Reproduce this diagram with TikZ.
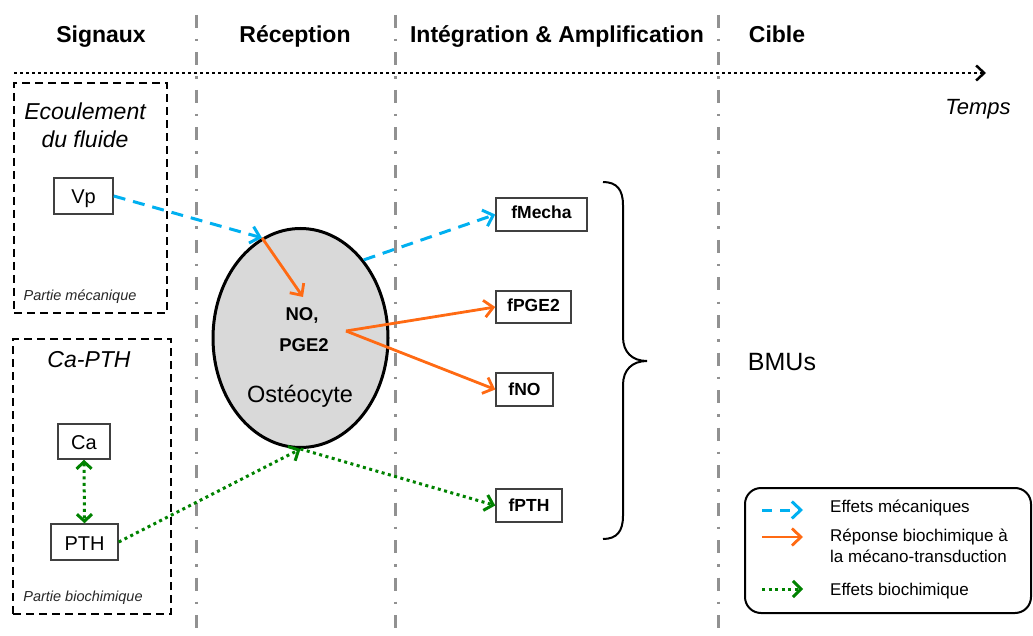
\documentclass[tikz,border=0pt]{standalone}
\usepackage{fontspec}
\setmainfont{Liberation Sans}
\usetikzlibrary{arrows.meta,shapes.geometric}
\definecolor{mblue}{RGB}{0,176,240}
\definecolor{morange}{RGB}{255,106,19}
\definecolor{mgreen}{RGB}{0,130,0}
\definecolor{mgray}{RGB}{145,145,145}
\definecolor{boxgray}{RGB}{64,64,64}
\definecolor{cellfill}{RGB}{217,217,217}
\begin{document}
\begin{tikzpicture}[x=1pt,y=-1pt,
  hdr/.style={font=\fontsize{23}{27}\selectfont\bfseries,anchor=base,inner sep=0pt},
  ital/.style={font=\fontsize{23}{27}\selectfont\itshape,anchor=base,inner sep=0pt},
  small/.style={font=\fontsize{14.5}{17}\selectfont\itshape,anchor=base,inner sep=0pt,text=boxgray!60!black},
  sbox/.style={draw=boxgray,line width=1.5pt,inner sep=0pt,text depth=0pt,font=\fontsize{20}{24}\selectfont},
  fbox/.style={draw=boxgray,line width=1.5pt,inner sep=0pt,text depth=0pt,font=\fontsize{17.5}{20}\selectfont\bfseries},
  grp/.style={draw=black,line width=2pt,dash pattern=on 8pt off 5pt,inner sep=0pt},
  sep/.style={mgray,line width=3pt,dash pattern=on 13pt off 11pt on 2.5pt off 11pt},
  legtxt/.style={font=\fontsize{17}{20}\selectfont,anchor=base west,inner sep=0pt},
  tip/.style={-{Straight Barb[length=9pt,width=17pt]}},
  mech/.style={mblue,line width=3pt,dash pattern=on 12pt off 8pt,tip},
  bio/.style={morange,line width=2.8pt,tip},
  chem/.style={mgreen,line width=3pt,dash pattern=on 3pt off 3.5pt,-{Straight Barb[length=8pt,width=16pt]}}]
\useasboundingbox (0,0) rectangle (1033,636);

% column separators
\coordinate (v1t) at (196,15); \coordinate (v1b) at (196,636);
\coordinate (v2t) at (395,15); \coordinate (v2b) at (395,636);
\coordinate (v3t) at (718,15); \coordinate (v3b) at (718,636);
\draw[sep] (v1t) -- (v1b);
\draw[sep] (v2t) -- (v2b);
\draw[sep] (v3t) -- (v3b);

% headers
\node[hdr] (h1) at (101,43) {Signaux};
\node[hdr] (h2) at (295,43) {Réception};
\node[hdr] (h3) at (557,43) {Intégration \& Amplification};
\node[hdr] (h4) at (777,43) {Cible};

% time axis
\coordinate (t0) at (14,73);
\coordinate (t1) at (986,73);
\draw[black,line width=2.5pt,dash pattern=on 2.5pt off 3.5pt,-{Straight Barb[length=8pt,width=15pt]}] (t0) -- (t1);
\node[ital,font=\fontsize{22}{26}\selectfont\itshape] (temps) at (978,115) {Temps};

% group boxes
\node[grp,minimum width=153pt,minimum height=230pt] (g1) at (90.5,198) {};
\node[grp,minimum width=158pt,minimum height=275pt] (g2) at (92,476.5) {};
\node[ital] (ecl1) at (85,120) {Ecoulement};
\node[ital] (ecl2) at (85,148) {du fluide};
\node[small] (pm) at (80,301) {Partie mécanique};
\node[ital] (capth) at (89,367) {Ca-PTH};
\node[small] (pb) at (83,601) {Partie biochimique};

% signal boxes
\node[sbox,minimum width=59pt,minimum height=36pt,text height=16pt] (vp) at (83.5,196) {Vp};
\node[sbox,minimum width=52pt,minimum height=35pt,text height=15pt] (ca) at (84,441.5) {Ca};
\node[sbox,minimum width=67pt,minimum height=36pt,text height=16pt] (pth) at (84.5,542) {PTH};

% osteocyte
\node[ellipse,draw=black,fill=cellfill,line width=3pt,minimum width=175pt,minimum height=219pt,inner sep=0pt] (cell) at (300.5,338) {};
\node[font=\fontsize{18.5}{22}\selectfont\bfseries,anchor=base,inner sep=0pt] (no) at (302,320) {NO,};
\node[font=\fontsize{18.5}{22}\selectfont\bfseries,anchor=base,inner sep=0pt] (pge) at (304,351) {PGE2};
\node[font=\fontsize{23.5}{27}\selectfont,anchor=base,inner sep=0pt] (ost) at (300,402) {Ostéocyte};
\coordinate (notip) at (303,297);
\coordinate (src) at (346,331);

% target boxes
\node[fbox,minimum width=91pt,minimum height=33pt,text height=9pt] (fmecha) at (541.5,214.5) {fMecha};
\node[fbox,minimum width=75pt,minimum height=32pt,text height=10pt] (fpge) at (533.5,307) {fPGE2};
\node[fbox,minimum width=57pt,minimum height=33pt,text height=11pt] (fno) at (524.5,389.5) {fNO};
\node[fbox,minimum width=66pt,minimum height=33pt,text height=11pt] (fpth) at (529,505.5) {fPTH};

% arrows
\draw[mech] (vp.east) -- (cell.111);
\draw[bio] (cell.111) -- (notip);
\draw[mech] (cell.51) -- (fmecha.west);
\draw[bio] (src) -- (fpge.west);
\draw[bio] (src) -- (fno.west);
\draw[chem] (pth.east) -- (cell.south);
\draw[chem] (cell.south) -- (fpth.west);
\draw[chem,{Straight Barb[length=7pt,width=15pt]}-{Straight Barb[length=7pt,width=15pt]}] (ca.south) -- (pth.north);

% brace
\coordinate (br0) at (603,182);
\coordinate (brm) at (647,361);
\coordinate (br1) at (603,539);
\draw[black,line width=2pt] (br0) .. controls (617,182) and (623,190) .. (623,205) -- (623,337)
  .. controls (623,352) and (632,361) .. (brm)
  .. controls (632,361) and (623,370) .. (623,385) -- (623,516)
  .. controls (623,531) and (617,539) .. (br1);
\node[font=\fontsize{25}{30}\selectfont,anchor=base,inner sep=0pt] (bmu) at (782,370) {BMUs};

% legend
\node[draw=black,line width=2pt,rounded corners=16pt,minimum width=286pt,minimum height=125pt,inner sep=0pt] (legend) at (888,550.5) {};
\coordinate (l1a) at (762,510); \coordinate (l1b) at (803,510);
\coordinate (l2a) at (762,537); \coordinate (l2b) at (803,537);
\coordinate (l3a) at (762,589); \coordinate (l3b) at (803,589);
\draw[mech,dash pattern=on 10pt off 8pt] (l1a) -- (l1b);
\draw[bio] (l2a) -- (l2b);
\draw[chem] (l3a) -- (l3b);
\node[legtxt] (lt1) at (830,512) {Effets mécaniques};
\node[legtxt] (lt2) at (830,541) {Réponse biochimique à};
\node[legtxt] (lt3) at (830,562) {la mécano-transduction};
\node[legtxt] (lt4) at (830,595) {Effets biochimique};
\end{tikzpicture}
\end{document}
